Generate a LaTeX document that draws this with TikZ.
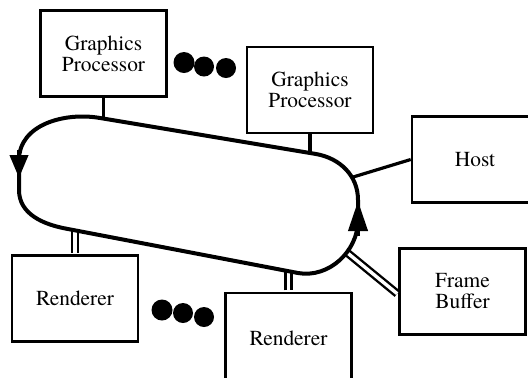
\documentclass[tikz,border=0pt]{standalone}
\usepackage{fontspec}
\setmainfont{texgyretermes-regular.otf}
\usetikzlibrary{arrows.meta}
\tikzset{%
  block/.style={draw,line width=1.3pt,align=center,minimum width=63pt,minimum height=43pt,inner sep=2pt},
  link/.style={line width=1.6pt},
  dlink/.style={line width=1.2pt,double,double distance=1.7pt},
  ring/.style={line width=2pt,line join=round},
  flow/.style={-{Triangle[length=11.5pt,width=9pt]},line width=2pt}%
}

\begin{document}
\begin{tikzpicture}[
    x=0.5pt,y=0.5pt,
    font=\fontsize{10.7pt}{10.5pt}\selectfont,
    dots/.style={fill=black}
]

\useasboundingbox (0,0) rectangle (528,-377);
\clip (0,0) rectangle (528,-377);

% Units around the ring
\node[block] (gpa) at (103.5,-53.5) {Graphics\\Processor};
\node[block] (gpb) at (310,-90) {Graphics\\Processor};
\node[block] (host) at (475,-159.5) {Host};
\node[block] (fb) at (462.5,-291.5) {Frame\\Buffer};
\node[block] (rendA) at (75,-298.5) {Renderer};
\node[block, minimum height=45pt] (rendB) at (288.5,-338) {Renderer};

% "more of the same"
\fill[dots] (184,-62.5) circle (10.5);
\fill[dots] (204,-66.5) circle (10);
\fill[dots] (226,-68) circle (10);
\fill[dots] (162,-310) circle (10.5);
\fill[dots] (183,-313) circle (10);
\fill[dots] (204,-317) circle (10);

% Taps on the ring
\coordinate (ga) at (103.5,-118.5);
\coordinate (gb) at (310,-153);
\coordinate (hc) at (351.5,-177.5);
\coordinate (ra) at (75,-230.3);
\coordinate (rb) at (288.5,-271.2);
\coordinate (fc) at (347,-252.5);

\draw[link] (gpa.south) -- (ga);
\draw[link] (gpb.south) -- (gb);
\draw[link] (hc) -- (host.west);
\draw[dlink, shorten <=0.65pt] (rendA.north) -- (ra);
\draw[dlink, shorten <=0.65pt] (rendB.north) -- (rb);
\draw[dlink, shorten >=0.65pt] (fc) -- ([yshift=-1.5pt]fb.west);

% The ring itself
\draw[ring] (316,-154) -- (100,-118) to[out=170,in=90] (19,-160) -- (19,-190)
  to[out=-90,in=170] (68,-229) -- (298,-273) to[out=-10,in=-90] (358,-220)
  -- (358,-200) to[out=90,in=-10] (316,-154) -- cycle;
\draw[flow] (19,-150) -- (19,-178);
\draw[flow, -{Triangle[length=15pt,width=9.5pt]}] (358,-236) -- (358,-201);

\end{tikzpicture}
\end{document}
